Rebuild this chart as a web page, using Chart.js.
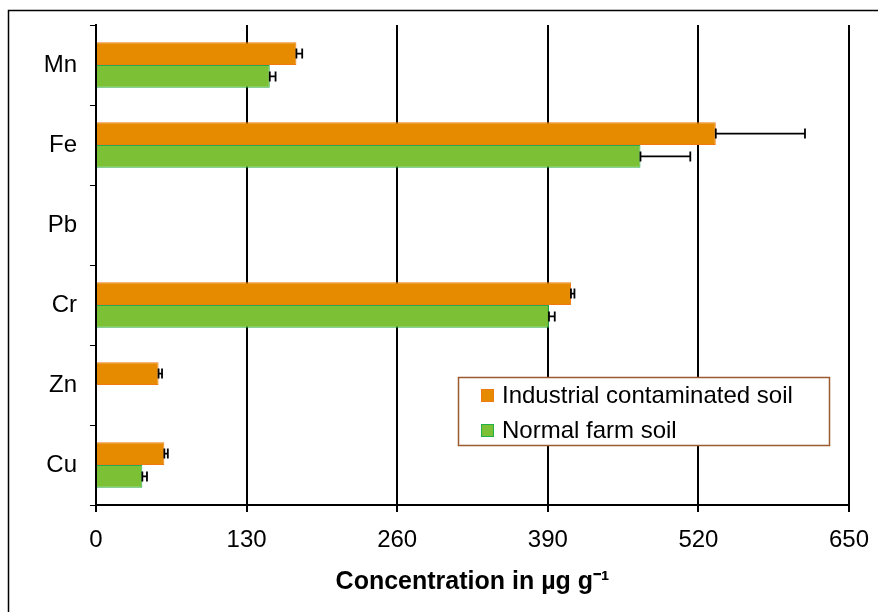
<!DOCTYPE html>
<html>
<head>
    <title>Concentration chart</title>
    <style>
        body { margin: 0; background: #ffffff; }
        #wrap { width: 878px; height: 612px; }
    </style>
</head>
<body>
    <div id="wrap"><canvas id="grafico" width="878" height="612"></canvas></div>

    <script src="https://cdn.jsdelivr.net/npm/chart.js"></script>
    <script>
        // Data
        var elementos = ["Mn", "Fe", "Pb", "Cr", "Zn", "Cu"];
        var industrial = [173, 535, 0, 410, 54, 59];
        var industrialErro = [5, 77, 0, 3, 3, 3];
        var normal = [150, 470, 0, 391, 0, 40];
        var normalErro = [5, 43, 0, 5, 0, 4];
        var escalaX = [0, 130, 260, 390, 520, 650];

        var fonte = "'Liberation Sans', Arial, sans-serif";

        // Error bars (plus direction only, with caps at both ends)
        var barrasErro = {
            id: "barrasErro",
            afterDatasetsDraw: function (chart) {
                var ctx = chart.ctx;
                var xScale = chart.scales.x;
                var erros = [industrialErro, normalErro];
                ctx.save();
                ctx.strokeStyle = "#000000";
                ctx.lineWidth = 1.8;
                chart.data.datasets.forEach(function (ds, i) {
                    var meta = chart.getDatasetMeta(i);
                    meta.data.forEach(function (bar, j) {
                        var v = ds.data[j];
                        var e = erros[i][j];
                        if (!v || !e) return;
                        var x0 = xScale.getPixelForValue(v);
                        var x1 = xScale.getPixelForValue(v + e);
                        var y = bar.y;
                        ctx.beginPath();
                        ctx.moveTo(x0, y);
                        ctx.lineTo(x1, y);
                        ctx.moveTo(x0, y - 5);
                        ctx.lineTo(x0, y + 5);
                        ctx.moveTo(x1, y - 5);
                        ctx.lineTo(x1, y + 5);
                        ctx.stroke();
                    });
                });
                ctx.restore();
            }
        };

        // Legend box inside the plot and the outer frame
        var legendaMoldura = {
            id: "legendaMoldura",
            afterDraw: function (chart) {
                var ctx = chart.ctx;
                ctx.save();
                // outer frame (left and top)
                ctx.strokeStyle = "#000000";
                ctx.lineWidth = 1.5;
                ctx.beginPath();
                ctx.moveTo(8.5, 612);
                ctx.lineTo(8.5, 10.5);
                ctx.lineTo(878, 10.5);
                ctx.stroke();

                // legend
                ctx.fillStyle = "#ffffff";
                ctx.fillRect(458, 377, 372, 69);
                ctx.strokeStyle = "#9C5A2E";
                ctx.lineWidth = 1.5;
                ctx.strokeRect(458.5, 377.5, 371, 68);
                ctx.font = "24px " + fonte;
                ctx.textBaseline = "middle";
                chart.data.datasets.forEach(function (ds, i) {
                    var yc = 395 + i * 35;
                    ctx.fillStyle = ds.backgroundColor;
                    ctx.fillRect(481, yc - 6, 13, 13);
                    ctx.strokeStyle = ds.borderColor;
                    ctx.lineWidth = 1;
                    ctx.strokeRect(481.5, yc - 5.5, 12, 12);
                    ctx.fillStyle = "#000000";
                    ctx.fillText(ds.label, 502, yc + 1);
                });
                ctx.restore();
            }
        };

        var ctx = document.getElementById("grafico").getContext("2d");
        var grafico = new Chart(ctx, {
            type: "bar",
            data: {
                labels: elementos,
                datasets: [
                    {
                        label: "Industrial contaminated soil",
                        data: industrial,
                        backgroundColor: "#E68A00",
                        borderColor: "#EE7A10",
                        borderWidth: 1
                    },
                    {
                        label: "Normal farm soil",
                        data: normal,
                        backgroundColor: "#7CC035",
                        borderColor: "#22B04A",
                        borderWidth: 1
                    }
                ]
            },
            options: {
                indexAxis: "y",
                responsive: false,
                animation: false,
                layout: { padding: { left: 0, top: 25, right: 29, bottom: 0 } },
                datasets: { bar: { barPercentage: 1, categoryPercentage: 0.57 } },
                plugins: {
                    legend: { display: false },
                    tooltip: { enabled: false }
                },
                scales: {
                    x: {
                        min: 0,
                        max: 650,
                        afterBuildTicks: function (scale) {
                            scale.ticks = escalaX.map(function (v) { return { value: v }; });
                        },
                        afterFit: function (scale) {
                            scale.height = 107;
                            scale.paddingLeft = 0;
                            scale.paddingRight = 0;
                        },
                        grid: { color: "#000000", lineWidth: 2, tickLength: 7 },
                        border: { color: "#000000", width: 2 },
                        ticks: {
                            color: "#000000",
                            padding: 14,
                            maxRotation: 0,
                            font: { family: fonte, size: 24 }
                        },
                        title: {
                            display: true,
                            text: "Concentration in \u00b5g g\u207b\u00b9",
                            color: "#000000",
                            padding: { top: 0, bottom: 15 },
                            font: { family: fonte, size: 25, weight: "bold" }
                        }
                    },
                    y: {
                        afterFit: function (scale) {
                            scale.width = 96;
                            scale.paddingTop = 0;
                            scale.paddingBottom = 0;
                        },
                        grid: {
                            offset: true,
                            drawOnChartArea: false,
                            color: "#000000",
                            lineWidth: 1,
                            tickLength: 6
                        },
                        border: { color: "#000000", width: 2 },
                        ticks: {
                            color: "#000000",
                            padding: 13,
                            font: { family: fonte, size: 24 }
                        }
                    }
                }
            },
            plugins: [barrasErro, legendaMoldura]
        });
    </script>
</body>
</html>
